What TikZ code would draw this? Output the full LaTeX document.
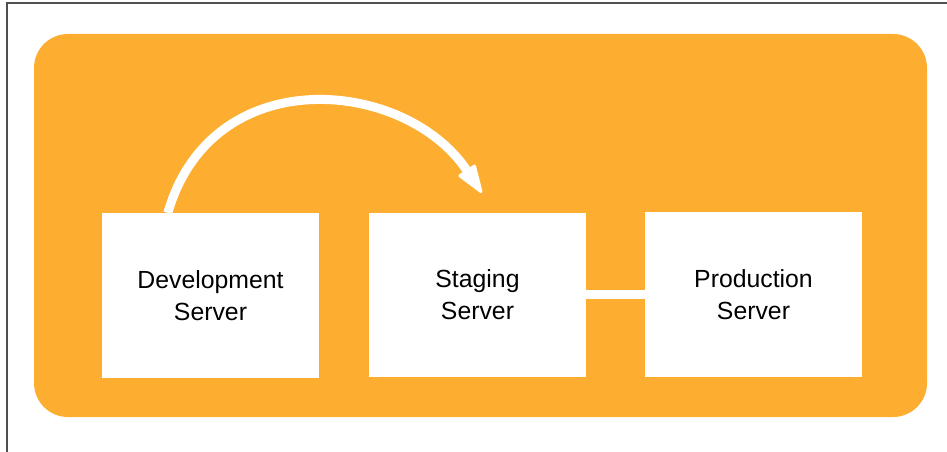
\documentclass[tikz,border=0pt]{standalone}
\usepackage{fontspec}
\setmainfont{Liberation Sans}
\usetikzlibrary{arrows.meta,calc}
\definecolor{orangebg}{RGB}{253,173,47}
\definecolor{framegray}{RGB}{80,80,80}
\tikzset{
  serverbox/.style={fill=white, draw=none, inner sep=0pt, minimum width=217pt, minimum height=165pt, align=center, font=\fontsize{24.8}{32}\selectfont},
  whiteline/.style={draw=white, line width=9pt},
  flowarrow/.style={draw=white, line width=9pt, line join=round, -{Triangle[length=31pt,width=21pt,line join=round,line width=3pt]}}
}
\begin{document}
\begin{tikzpicture}[x=1pt,y=-1pt]
\useasboundingbox (0,0) rectangle (947,452);
\draw[framegray, line width=1.2pt] (7,452) -- (7,3) -- (947,3);
\fill[orangebg, rounded corners=34pt] (34,34) rectangle (927,417);
\node[serverbox] (dev) at (210.5,295.5) {Development\\Server};
\node[serverbox, minimum height=164pt] (stage) at (477.5,294.5) {Staging\\Server};
\node[serverbox] (prod) at (753.5,294.5) {Production\\Server};
\draw[whiteline] (stage.east |- prod.west) -- (prod.west);
\coordinate (arrstart) at ($(dev.north west)+(66,0)$);
\coordinate (arrend) at ($(dev.north west)+(380,-20)$);
\draw[flowarrow] (arrstart) .. controls (212,60) and (405,78) .. (arrend);
\end{tikzpicture}
\end{document}
